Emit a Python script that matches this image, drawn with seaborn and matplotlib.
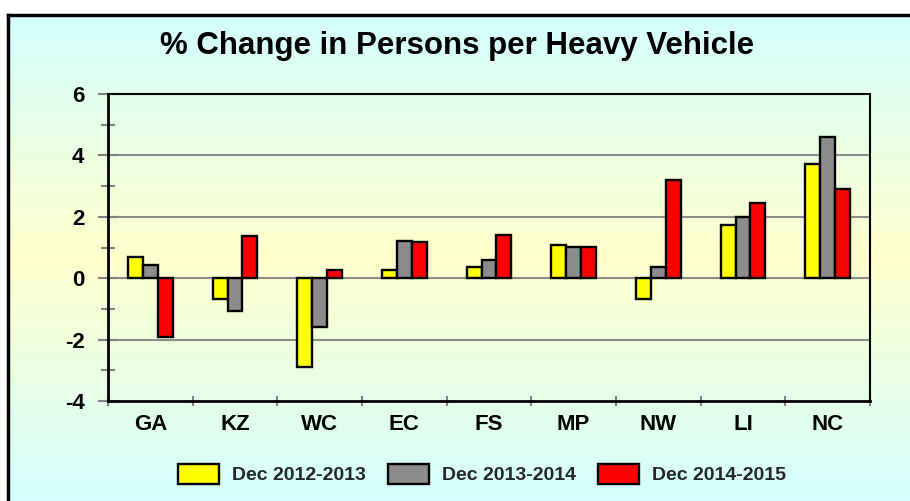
import numpy as np
import pandas as pd
import matplotlib
matplotlib.use("Agg")
import matplotlib.pyplot as plt
from matplotlib.colors import LinearSegmentedColormap
import seaborn as sns

# ---- data ----
regions = ["GA", "KZ", "WC", "EC", "FS", "MP", "NW", "LI", "NC"]
series_names = ["Dec 2012-2013", "Dec 2013-2014", "Dec 2014-2015"]
vals_2012_2013 = [0.68, -0.68, -2.90, 0.27, 0.36, 1.07, -0.69, 1.73, 3.73]
vals_2013_2014 = [0.44, -1.07, -1.60, 1.20, 0.60, 1.01, 0.37, 1.99, 4.59]
vals_2014_2015 = [-1.92, 1.39, 0.26, 1.17, 1.40, 1.02, 3.19, 2.46, 2.90]
y_ticks = [-4, -2, 0, 2, 4, 6]
title = "% Change in Persons per Heavy Vehicle"
colors = ["#FFFF00", "#8C8C8C", "#FF0000"]

df = pd.DataFrame({
    "region": regions * 3,
    "series": [series_names[0]] * 9 + [series_names[1]] * 9 + [series_names[2]] * 9,
    "value": vals_2012_2013 + vals_2013_2014 + vals_2014_2015,
})

sns.set_theme(style="white")
plt.rcParams["font.family"] = ["Liberation Sans", "DejaVu Sans"]
plt.rcParams["font.weight"] = "bold"

W, H = 910, 501
fig = plt.figure(figsize=(W / 100, H / 100), dpi=100)
fig.patch.set_facecolor("white")

# background gradient panel (chart area box)
bg = fig.add_axes([8 / W, 0, 1 - 8 / W, 1 - 15 / H], zorder=-5)
cmap = LinearSegmentedColormap.from_list(
    "bg", [(0.0, "#D4FFFF"), (0.22, "#E6FFE8"), (0.5, "#FFFFCC"), (0.78, "#E6FFE8"), (1.0, "#D4FFFF")])
grad = np.linspace(0, 1, 256).reshape(-1, 1)
bg.imshow(grad, aspect="auto", cmap=cmap, extent=[0, 1, 0, 1], origin="upper")
bg.set_xlim(0, 1)
bg.set_ylim(0, 1)
bg.set_xticks([])
bg.set_yticks([])
for s in ["top", "left"]:
    bg.spines[s].set_linewidth(2.5)
    bg.spines[s].set_color("black")
for s in ["bottom", "right"]:
    bg.spines[s].set_visible(False)

ax = fig.add_axes([108 / W, 1 - 401 / H, (870 - 108) / W, (401 - 94) / H])
ax.set_facecolor("none")

sns.barplot(data=df, x="region", y="value", hue="series", palette=colors,
            width=0.53, edgecolor="black", linewidth=1.7, ax=ax, legend=True,
            saturation=1, gap=0)

ax.set_ylim(-4, 6)
ax.set_xlim(-0.5, 8.5)
ax.set_yticks(y_ticks)
ax.set_yticks([-3, -1, 1, 3, 5], minor=True)
ax.set_xticks(range(len(regions)))
ax.set_xticklabels(regions, fontsize=16, fontweight="bold")
ax.set_xticks(np.arange(-0.5, 9, 1.0), minor=True)
ax.set_yticklabels([str(t) for t in y_ticks], fontsize=16, fontweight="bold")
ax.set_xlabel("")
ax.set_ylabel("")

ax.tick_params(axis="y", which="major", direction="inout", length=14, width=1.5,
               color="#808080", pad=10, labelcolor="black", left=True)
ax.tick_params(axis="y", which="minor", direction="inout", length=9.5, width=1.5,
               color="#808080", left=True)
ax.tick_params(axis="x", which="major", length=0, pad=9, labelcolor="black")
ax.tick_params(axis="x", which="minor", direction="inout", length=7, width=1.5,
               color="#808080", bottom=True)

for t in [-2, 0, 2, 4]:
    ax.axhline(t, color="#8C8C8C", linewidth=1.5, zorder=0.5)

for s in ["left", "bottom"]:
    ax.spines[s].set_linewidth(2)
    ax.spines[s].set_color("black")
for s in ["top", "right"]:
    ax.spines[s].set_linewidth(1.5)
    ax.spines[s].set_color("black")
    ax.spines[s].set_visible(True)

handles, labels = ax.get_legend_handles_labels()
ax.legend_.remove()
fig.legend(handles, labels, loc="center", bbox_to_anchor=(482 / W, 1 - 474 / H),
           ncol=3, frameon=False, prop={"weight": "bold", "size": 14},
           handlelength=2.1, handleheight=1.2, handletextpad=0.65, columnspacing=1.15)

fig.text(457 / W, 1 - 46 / H, title, ha="center", va="center",
         fontsize=22.5, fontweight="bold", color="black")

fig.savefig("out.png", dpi=100)
